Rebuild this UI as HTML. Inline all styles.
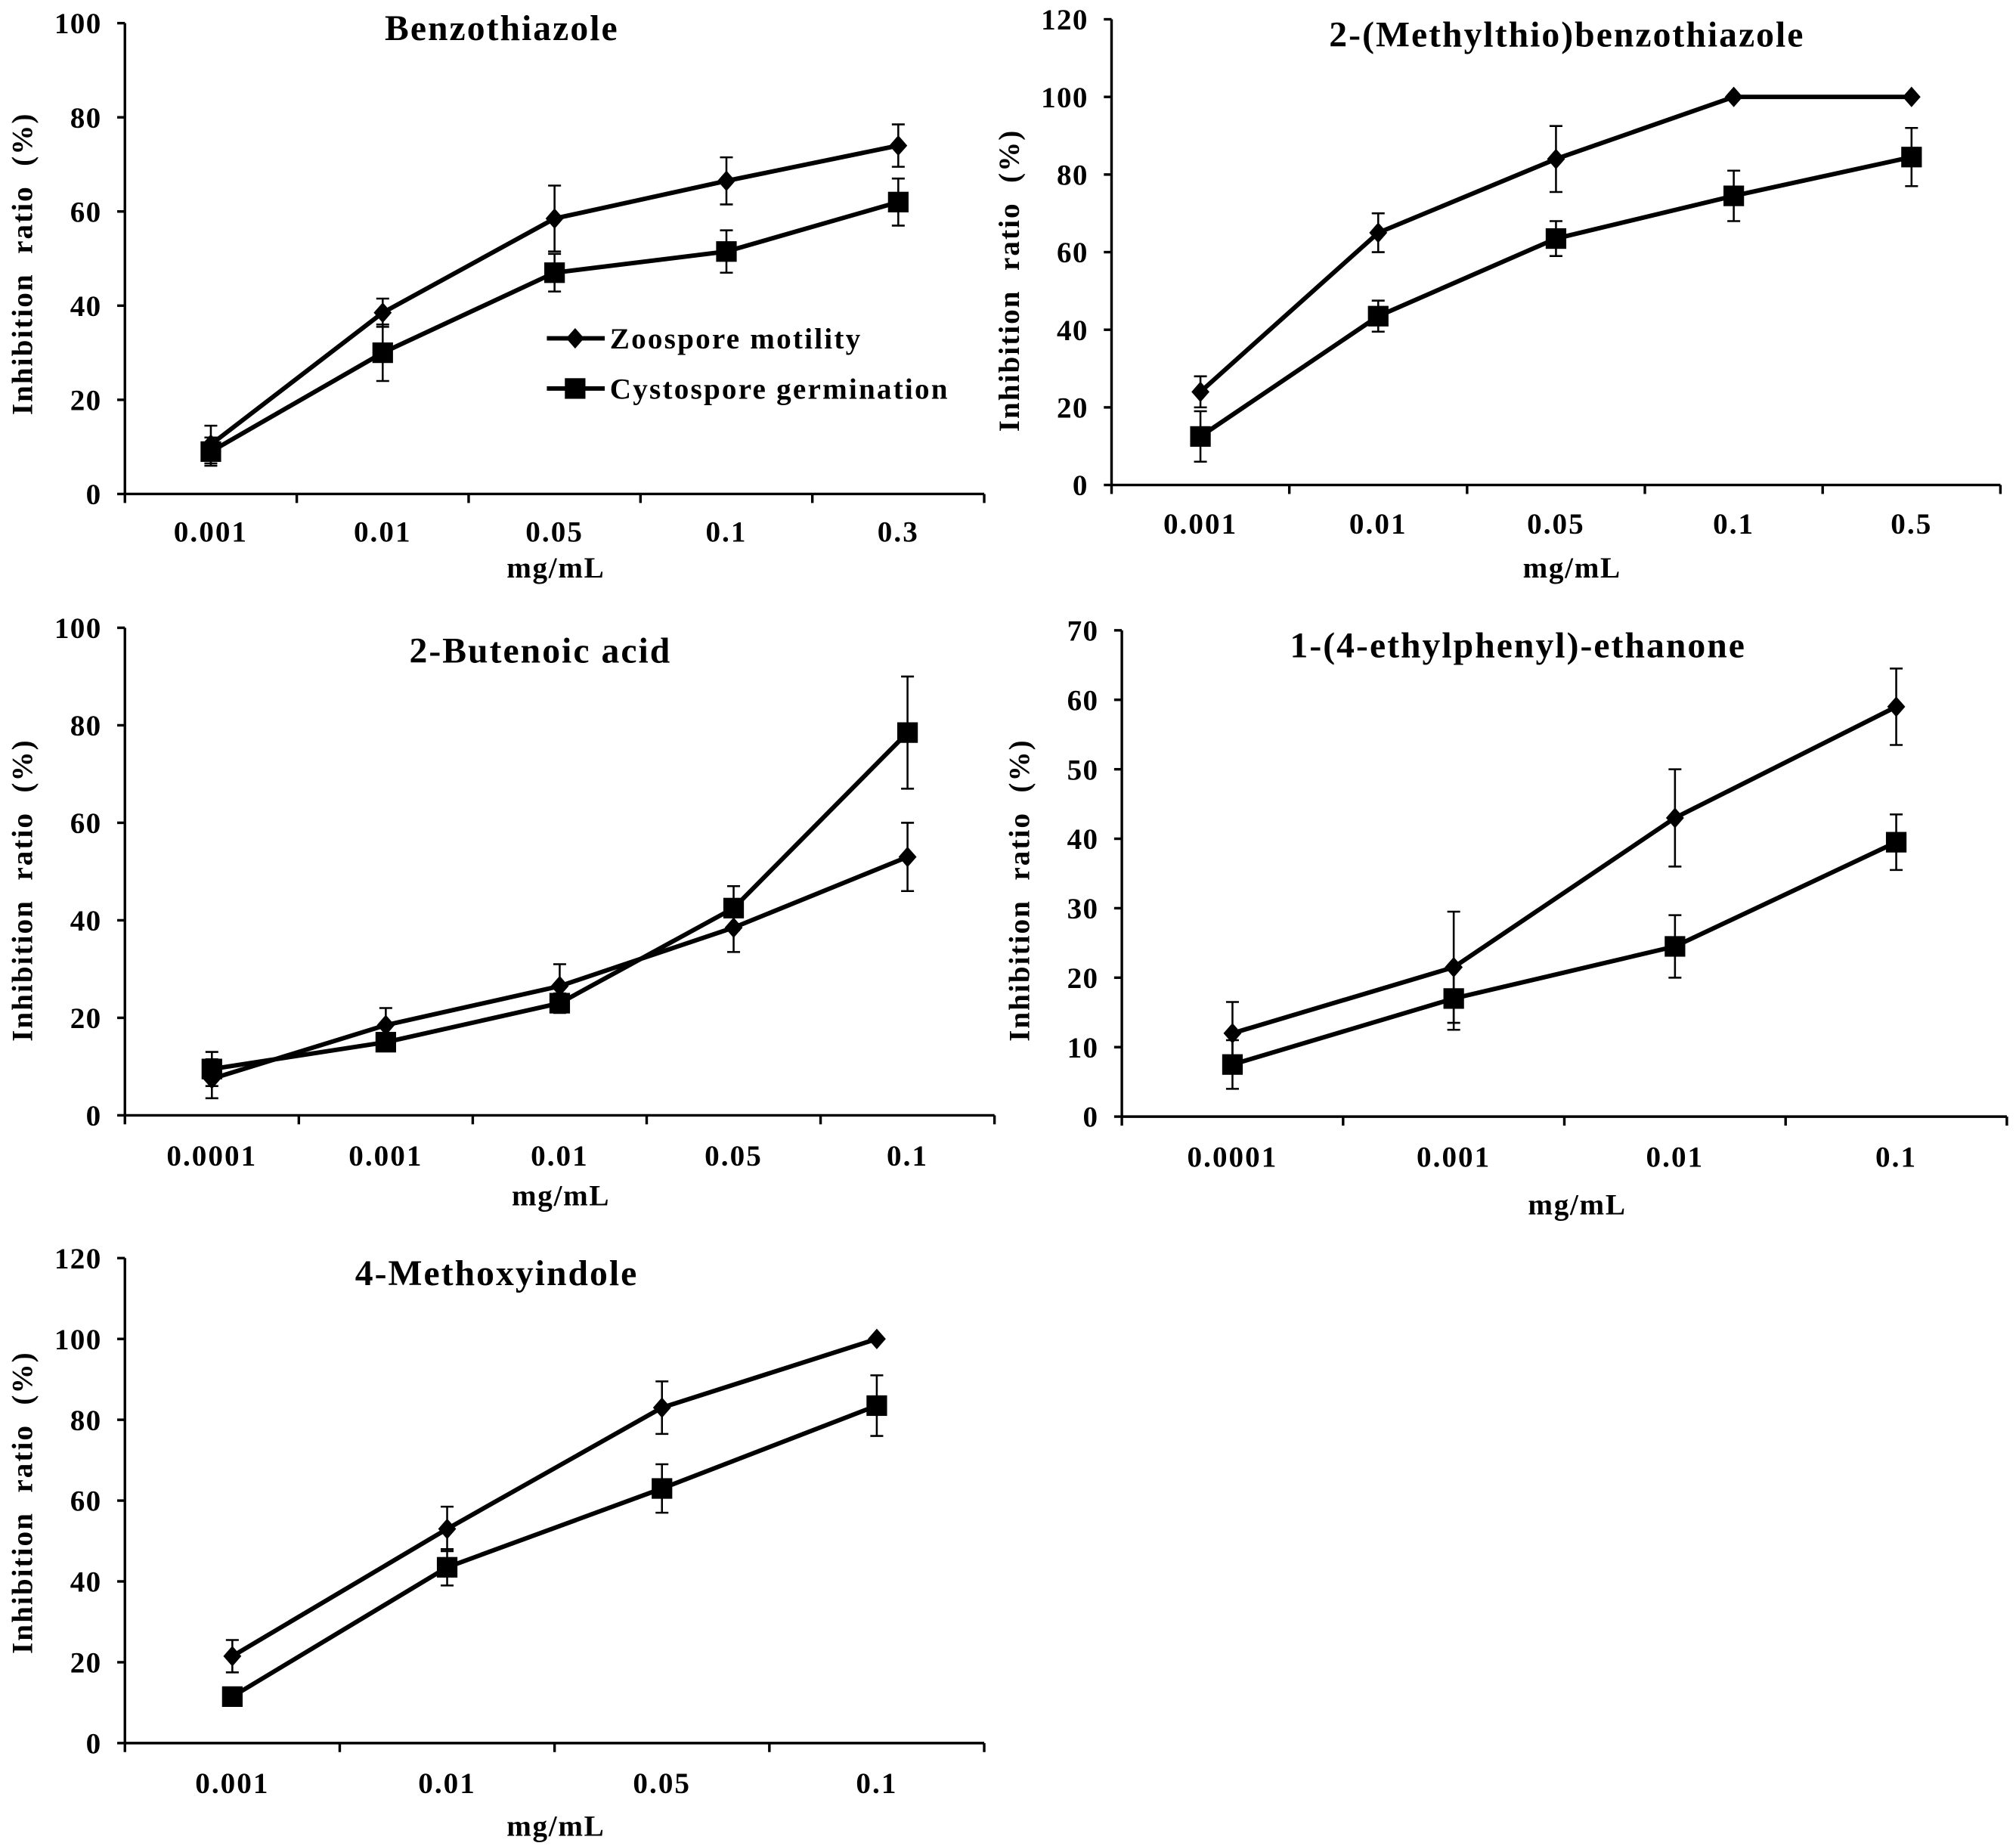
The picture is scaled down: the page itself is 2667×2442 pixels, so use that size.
<!DOCTYPE html>
<html><head><meta charset="utf-8"><style>
html,body{margin:0;padding:0;background:#fff;}
svg{display:block;}
text{font-family:"Liberation Serif",serif;font-weight:bold;fill:#000;}
</style></head><body>
<svg id="chart" width="2667" height="2442" viewBox="0 0 1567 1435" xmlns="http://www.w3.org/2000/svg"></svg>
<script>
// Panel data
const titles = ["Benzothiazole","2-(Methylthio)benzothiazole","2-Butenoic acid","1-(4-ethylphenyl)-ethanone","4-Methoxyindole"];
const cats1 = ["0.001","0.01","0.05","0.1","0.3"];
const cats2 = ["0.001","0.01","0.05","0.1","0.5"];
const cats3 = ["0.0001","0.001","0.01","0.05","0.1"];
const cats4 = ["0.0001","0.001","0.01","0.1"];
const cats5 = ["0.001","0.01","0.05","0.1"];
const zoo1 = [10.5,38.5,58.5,66.5,74];   const zooErr1 = [4,3,7,5,4.5];
const cys1 = [9,30,47,51.5,62];          const cysErr1 = [3,6,4,4.5,5];
const zoo2 = [24,65,84,100,100];         const zooErr2 = [4,5,8.5,0,0];
const cys2 = [12.5,43.5,63.5,74.5,84.5]; const cysErr2 = [6.5,4,4.5,6.5,7.5];
const zoo3 = [7.5,18.5,26.5,38.5,53];    const zooErr3 = [4,3.5,4.5,5,7];
const cys3 = [9.5,15,23,42.5,78.5];      const cysErr3 = [3.5,1.5,2,4.5,11.5];
const zoo4 = [12,21.5,43,59];            const zooErr4 = [4.5,8,7,5.5];
const cys4 = [7.5,17,24.5,39.5];         const cysErr4 = [3.5,4.5,4.5,4];
const zoo5 = [21.5,53,83,100];           const zooErr5 = [4,5.5,6.5,0];
const cys5 = [11.5,43.5,63,83.5];        const cysErr5 = [0,4.5,6,7.5];
const yMax = [100,120,100,70,120];
const yStep = [20,20,20,10,20];

const layout = [
 {x0:97,x1:765,yTop:18,yBot:384,titleX:390,titleY:31,tickY:421,unitX:432,unitY:449,ylabY:205},
 {x0:864,x1:1555,yTop:15,yBot:377,titleX:1218,titleY:36,tickY:415,unitX:1222,unitY:449,ylabY:218},
 {x0:97,x1:773,yTop:488,yBot:867,titleX:420,titleY:515,tickY:906,unitX:436,unitY:937,ylabY:692},
 {x0:872,x1:1560,yTop:490,yBot:868,titleX:1180,titleY:511,tickY:907,unitX:1226,unitY:944,ylabY:692},
 {x0:97,x1:765,yTop:978,yBot:1355,titleX:386,titleY:999,tickY:1394,unitX:432,unitY:1427,ylabY:1168}
];
const allCats=[cats1,cats2,cats3,cats4,cats5];
const allZoo=[zoo1,zoo2,zoo3,zoo4,zoo5], allZooE=[zooErr1,zooErr2,zooErr3,zooErr4,zooErr5];
const allCys=[cys1,cys2,cys3,cys4,cys5], allCysE=[cysErr1,cysErr2,cysErr3,cysErr4,cysErr5];

const svg=document.getElementById('chart');
const NS="http://www.w3.org/2000/svg";
function mk(tag,attrs,parent){const e=document.createElementNS(NS,tag);for(const k in attrs)e.setAttribute(k,attrs[k]);(parent||svg).appendChild(e);return e;}

layout.forEach((L,p)=>{
  const g=mk('g',{});
  
  
  const cats=allCats[p], n=cats.length;
  const bw=(L.x1-L.x0)/n;
  const xs=i=>L.x0+bw*(i+0.5);
  const ys=v=>L.yBot-(v/yMax[p])*(L.yBot-L.yTop);
  const ya=mk('line',{x1:L.x0,y1:L.yTop,x2:L.x0,y2:L.yBot,stroke:'#000','stroke-width':2},g);
  
  
  const xa=mk('line',{x1:L.x0,y1:L.yBot,x2:L.x1,y2:L.yBot,stroke:'#000','stroke-width':2},g);
  
  
  for(let v=0;v<=yMax[p];v+=yStep[p]){
    mk('line',{x1:L.x0-6,y1:ys(v),x2:L.x0,y2:ys(v),stroke:'#000','stroke-width':2},g);
    const t=mk('text',{x:L.x0-18,y:ys(v)+8,'text-anchor':'end','font-size':23,'letter-spacing':0.8},g);
    t.textContent=v;
    
    
  }
  for(let i=0;i<=n;i++) mk('line',{x1:L.x0+bw*i,y1:L.yBot,x2:L.x0+bw*i,y2:L.yBot+7,stroke:'#000','stroke-width':2},g);
  cats.forEach((c,i)=>{
    const t=mk('text',{x:xs(i),y:L.tickY,'text-anchor':'middle','font-size':23,'letter-spacing':1.2},g);
    t.textContent=c;
    
    
  });
  const u=mk('text',{x:L.unitX,y:L.unitY,'text-anchor':'middle','font-size':23,'letter-spacing':1},g);
  u.textContent='mg/mL';
  
  
  const yl=mk('text',{x:0,y:0,'text-anchor':'middle','font-size':23,'letter-spacing':1.2,transform:`translate(${L.x0-72},${L.ylabY}) rotate(-90)`,'word-spacing':'8'},g);
  yl.textContent='Inhibition ratio (%)';
  
  
  const ti=mk('text',{x:L.titleX,y:L.titleY,'text-anchor':'middle','font-size':28,'letter-spacing':1.2},g);
  ti.textContent=titles[p];
  
  
  [[allCys[p],allCysE[p],'sq'],[allZoo[p],allZooE[p],'di']].forEach(([vals,errs,shape])=>{
    const pl=mk('polyline',{points:vals.map((v,i)=>xs(i)+','+ys(v)).join(' '),fill:'none',stroke:'#000','stroke-width':3.5},g);
    
    
    vals.forEach((v,i)=>{
      const x=xs(i),y=ys(v);
      if(errs[i]>0){
        const y1=ys(v+errs[i]),y2=ys(v-errs[i]);
        mk('line',{x1:x,y1:y1,x2:x,y2:y2,stroke:'#000','stroke-width':1.5},g);
        mk('line',{x1:x-5,y1:y1,x2:x+5,y2:y1,stroke:'#000','stroke-width':1.5},g);
        mk('line',{x1:x-5,y1:y2,x2:x+5,y2:y2,stroke:'#000','stroke-width':1.5},g);
      }
      let m;
      if(shape==='sq') m=mk('rect',{x:x-8,y:y-8,width:16,height:16,fill:'#000'},g);
      else m=mk('polygon',{points:`${x},${y-8} ${x+7},${y} ${x},${y+8} ${x-7},${y}`,fill:'#000'},g);
      
      
    });
  });
});
const lg=mk('g',{});


mk('line',{x1:425,y1:263,x2:470,y2:263,stroke:'#000','stroke-width':3.5},lg);
mk('polygon',{points:'447,255 454,263 447,271 440,263',fill:'#000'},lg);
const l1=mk('text',{x:474,y:271,'font-size':23,'letter-spacing':1.3},lg);
l1.textContent='Zoospore motility';


mk('line',{x1:425,y1:302,x2:470,y2:302,stroke:'#000','stroke-width':3.5},lg);
mk('rect',{x:439,y:294,width:16,height:16,fill:'#000'},lg);
const l2=mk('text',{x:474,y:310,'font-size':23,'letter-spacing':1.3},lg);
l2.textContent='Cystospore germination';


</script>
</body></html>
